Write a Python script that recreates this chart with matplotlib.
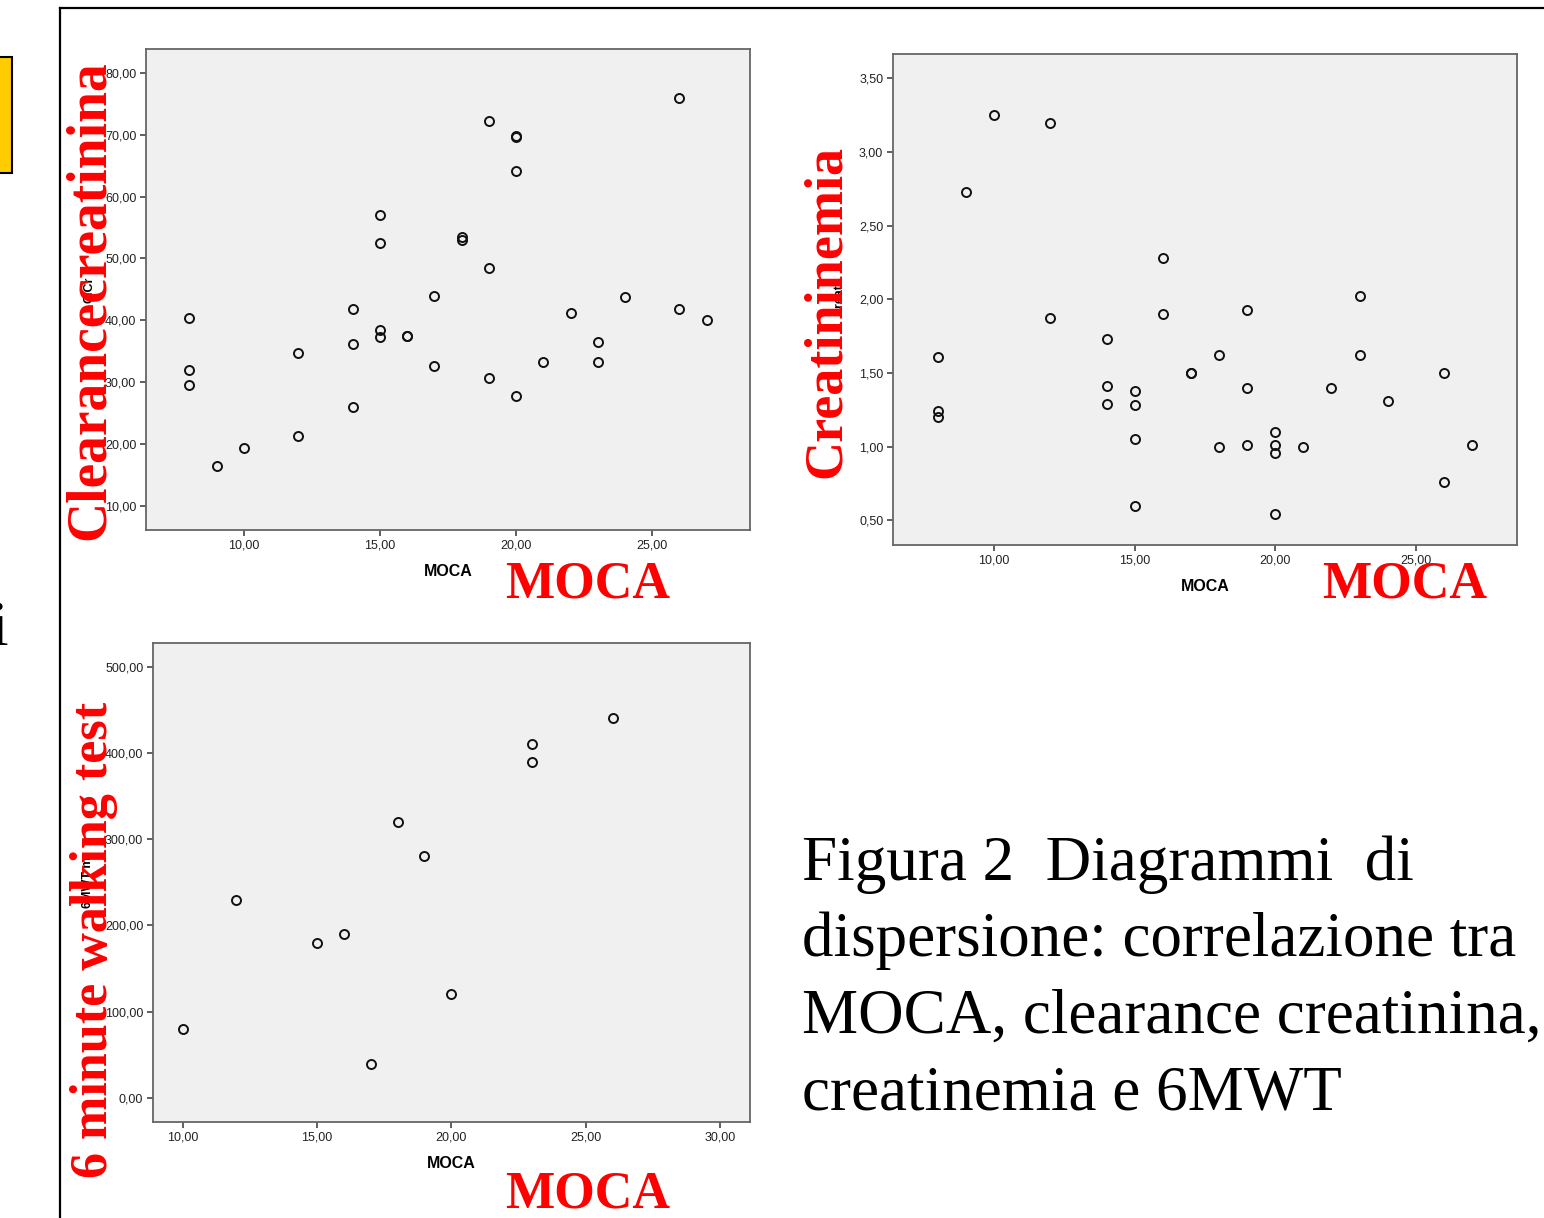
import numpy as np
import matplotlib
matplotlib.use("Agg")
import matplotlib.pyplot as plt
from matplotlib.patches import Rectangle
from matplotlib.lines import Line2D
from matplotlib.ticker import FuncFormatter

W, H = 1544, 1218

# MOCA vs clearance creatinina
moca_cl = [8, 8, 8, 9, 10, 12, 12, 14, 14, 14, 15, 15, 15, 15, 16, 16, 17, 17,
           18, 18, 19, 19, 19, 20, 20, 20, 20, 21, 22, 23, 23, 24, 26, 26, 27]
clcr = [40.4, 31.9, 29.5, 16.4, 19.3, 34.7, 21.2, 41.9, 36.1, 25.9, 57.1, 52.5,
        38.4, 37.3, 37.4, 37.5, 44.0, 32.6, 53.4, 53.0, 72.2, 48.4, 30.7, 69.9,
        69.6, 64.1, 27.7, 33.3, 41.1, 36.5, 33.2, 43.7, 76.0, 41.8, 40.0]

# MOCA vs creatininemia
moca_cr = [8, 8, 8, 9, 10, 12, 12, 14, 14, 14, 15, 15, 15, 15, 16, 16, 17, 17,
           18, 18, 19, 19, 19, 20, 20, 20, 20, 21, 22, 23, 23, 24, 26, 26, 27]
creat = [1.61, 1.24, 1.20, 2.73, 3.25, 3.20, 1.87, 1.73, 1.41, 1.29, 1.38, 1.28,
         1.05, 0.60, 2.28, 1.90, 1.50, 1.50, 1.62, 1.00, 1.93, 1.40, 1.01, 1.10,
         1.01, 0.96, 0.54, 1.00, 1.40, 2.02, 1.62, 1.31, 1.50, 0.76, 1.01]

# MOCA vs 6MWT
moca_wt = [10, 12, 15, 16, 17, 18, 19, 20, 23, 23, 26]
mwt = [80, 230, 180, 190, 40, 320, 280, 120, 410, 390, 440]

didascalia = ["Figura 2  Diagrammi  di",
              "dispersione: correlazione tra",
              "MOCA, clearance creatinina,",
              "creatinemia e 6MWT"]

fig = plt.figure(figsize=(W / 100, H / 100), dpi=100)
fig.patch.set_facecolor('white')

virgola = FuncFormatter(lambda v, p: ("%.2f" % v).replace('.', ','))


def pannello(l, t, r, b, x, y, xlim, ylim, xt, yt, ylab, ypad):
    ax = fig.add_axes([l / W, 1 - b / H, (r - l) / W, (b - t) / H])
    ax.set_facecolor('#f0f0f0')
    ax.plot(x, y, 'o', mfc='none', mec='#111111', ms=6.5, mew=1.4, ls='none')
    ax.set_xlim(*xlim)
    ax.set_ylim(*ylim)
    ax.set_xticks(xt)
    ax.set_yticks(yt)
    ax.xaxis.set_major_formatter(virgola)
    ax.yaxis.set_major_formatter(virgola)
    ax.tick_params(direction='out', length=4.5, width=1.2, color='#444444',
                   labelsize=9, labelcolor='#222222', pad=2.5)
    for lab in ax.get_xticklabels() + ax.get_yticklabels():
        lab.set_fontfamily('Liberation Sans')
    for s in ax.spines.values():
        s.set_color('#666666')
        s.set_linewidth(1.3)
    ax.set_xlabel('MOCA', fontsize=11.5, fontweight='bold', family='Liberation Sans',
                  labelpad=9)
    ax.set_ylabel(ylab, fontsize=9, fontweight='bold', family='Liberation Sans',
                  labelpad=ypad)
    return ax


pannello(146, 49, 750, 530, moca_cl, clcr, (6.41, 28.59), (6.06, 83.9),
         [10, 15, 20, 25], np.arange(10, 81, 10), 'ClCr', 7)
pannello(893, 54, 1517, 545, moca_cr, creat, (6.40, 28.6), (0.332, 3.666),
         [10, 15, 20, 25], np.arange(0.5, 3.51, 0.5), 'creat', 10)
pannello(153, 643, 750, 1122, moca_wt, mwt, (8.9, 31.11), (-27.8, 527.4),
         [10, 15, 20, 25, 30], np.arange(0, 501, 100), '6MWT m', 8)


def px(x, y):
    return x / W, 1 - y / H


rosso = '#ff0000'
serif = 'Liberation Serif'

# scritte rosse
fig.text(*px(104, 540), 'Clearancecreatinina', rotation=90, rotation_mode='anchor',
         ha='left', va='baseline', fontsize=40, fontweight='bold', family=serif, color=rosso)
fig.text(*px(840, 478), 'Creatininemia', rotation=90, rotation_mode='anchor',
         ha='left', va='baseline', fontsize=39, fontweight='bold', family=serif, color=rosso)
fig.text(*px(107, 1178), '6 minute walking test', rotation=90, rotation_mode='anchor',
         ha='left', va='baseline', fontsize=37.5, fontweight='bold', family=serif, color=rosso)
for xx, yy in [(505, 597), (1322, 597), (505, 1207)]:
    fig.text(*px(xx, yy), 'MOCA', ha='left', va='baseline', fontsize=37.5,
             fontweight='bold', family=serif, color=rosso)

# didascalia
for i, riga in enumerate(didascalia):
    fig.text(*px(802, 880 + 76.5 * i), riga, ha='left', va='baseline',
             fontsize=45.4, family=serif, color='black')

# cornice e resti della slide
fig.add_artist(Line2D([60 / W, 60 / W], [0, 1 - 8 / H], color='black', lw=1.6))
fig.add_artist(Line2D([60 / W, 1], [1 - 8 / H, 1 - 8 / H], color='black', lw=1.6))
fig.add_artist(Rectangle(px(-3, 173), 15 / W, 116 / H, fc='#ffcc00', ec='black',
                         lw=1.5, transform=fig.transFigure))
fig.text(*px(-9, 645), 'i', ha='left', va='baseline', fontsize=45.4, family=serif,
         color='black')

fig.savefig('out.png', dpi=100)
